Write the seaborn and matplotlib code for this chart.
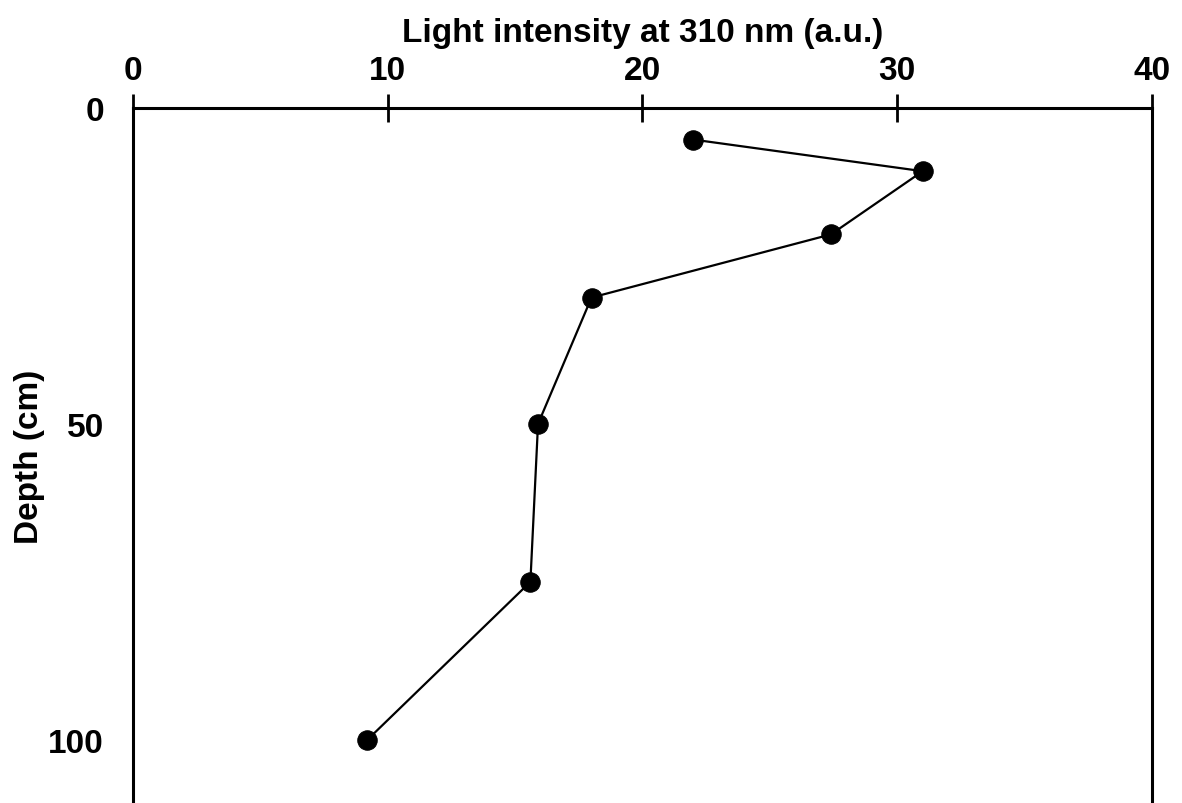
import matplotlib
matplotlib.use("Agg")
import matplotlib.pyplot as plt
import seaborn as sns
import pandas as pd

intensity = [22.0, 31.0, 27.4, 18.0, 15.9, 15.6, 9.2]
depth = [5, 10, 20, 30, 50, 75, 100]
x_ticks = [0, 10, 20, 30, 40]
y_ticks = [0, 50, 100]

sns.set_style("white")
plt.rcParams['font.family'] = ['Liberation Sans', 'DejaVu Sans']
plt.rcParams['font.weight'] = 'bold'
plt.rcParams['text.color'] = 'black'
plt.rcParams['axes.labelcolor'] = 'black'
plt.rcParams['xtick.color'] = 'black'
plt.rcParams['ytick.color'] = 'black'

df = pd.DataFrame({"intensity": intensity, "depth": depth})

fig = plt.figure(figsize=(11.82, 8.04), dpi=100)
ax = fig.add_axes([0.1125, 0.0, 0.8621, 0.8644])

sns.lineplot(data=df, x="intensity", y="depth", sort=False, estimator=None,
             marker="o", markersize=14, color="black", linewidth=1.6,
             markeredgecolor="black", ax=ax)

ax.set_xlim(0, 40)
ax.set_ylim(110, 0)
ax.set_xticks(x_ticks)
ax.set_yticks(y_ticks)
ax.xaxis.tick_top()
ax.xaxis.set_label_position("top")
ax.set_xlabel("Light intensity at 310 nm (a.u.)", fontsize=24, fontweight="bold",
              labelpad=10, color="black")
ax.set_ylabel("Depth (cm)", fontsize=24, fontweight="bold", labelpad=2, color="black")
ax.tick_params(axis="y", which="major", direction="inout", length=20, width=2,
               labelsize=24, color="black", labelcolor="black", pad=11)
ax.tick_params(axis="x", which="major", direction="inout", length=20, width=2,
               labelsize=24, color="black", labelcolor="black", pad=6)
for lab in ax.get_xticklabels() + ax.get_yticklabels():
    lab.set_fontweight("bold")

for side in ["top", "left", "right"]:
    ax.spines[side].set_visible(True)
    ax.spines[side].set_linewidth(2.2)
    ax.spines[side].set_color("black")
ax.spines["bottom"].set_visible(False)

fig.savefig("out.png", dpi=100)
